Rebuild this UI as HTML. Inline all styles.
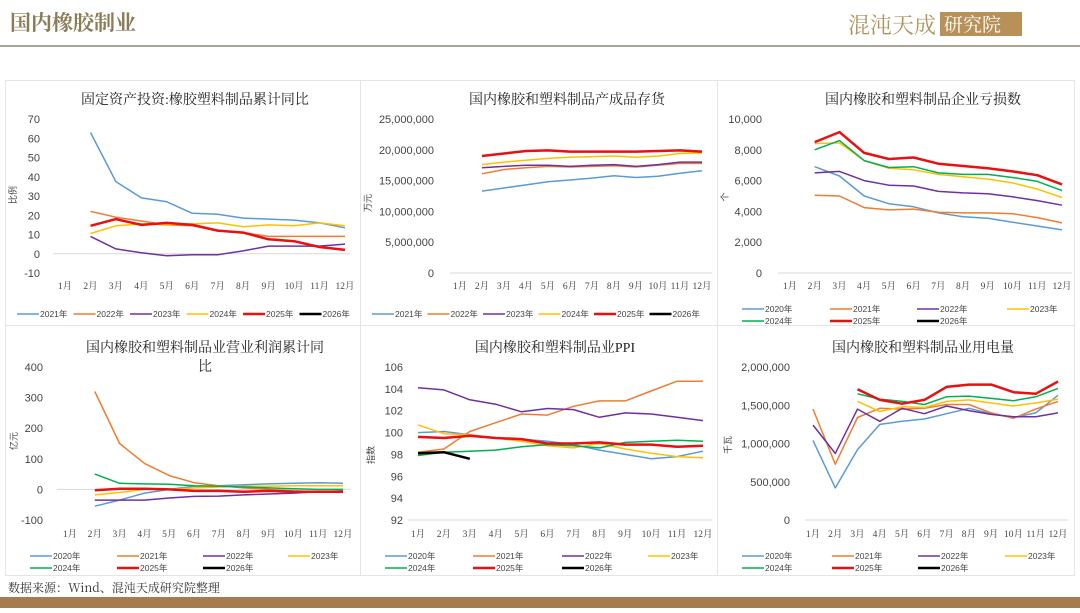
<!DOCTYPE html>
<html><head><meta charset="utf-8">
<style>
body{margin:0;background:#fff;width:1080px;height:608px;overflow:hidden;font-family:"Liberation Sans","Noto Sans CJK SC",sans-serif;}
svg text{font-family:"Liberation Sans","Noto Sans CJK SC",sans-serif;}
.ttl{font-family:"Liberation Serif","Noto Serif CJK SC",serif;font-size:14px;fill:#222;}
.tick{font-size:11px;fill:#444;}
.mon{font-size:9.5px;fill:#444;font-family:"Liberation Serif","Noto Serif CJK SC",serif;}
.leg{font-size:8.5px;fill:#444;}
</style></head>
<body>
<svg id="s" width="1080" height="608" xmlns="http://www.w3.org/2000/svg">
<rect x="0" y="0" width="1080" height="608" fill="#fff"/>
<text x="10" y="30" font-size="21" font-weight="bold" fill="#8b7b58" style="font-family:'Noto Serif CJK SC',serif">国内橡胶制业</text>
<g>
<text x="848" y="33" font-size="22" fill="#b0925e" style="font-family:'Noto Serif CJK SC',serif">混沌天成</text>
<rect x="940" y="12" width="82" height="24" fill="#b89158"/>
<text x="944" y="31" font-size="19" fill="#fff" style="font-family:'Noto Serif CJK SC',serif">研究院</text>
</g>
<rect x="0" y="45" width="1080" height="2" fill="#a8a595"/>
<g fill="none" stroke="#e4e4e4" stroke-width="1">
<rect x="5.5" y="80.5" width="355" height="245"/>
<rect x="360.5" y="80.5" width="357" height="245"/>
<rect x="717.5" y="80.5" width="357" height="245"/>
<rect x="5.5" y="325.5" width="355" height="250"/>
<rect x="360.5" y="325.5" width="357" height="250"/>
<rect x="717.5" y="325.5" width="357" height="250"/>
</g>
<text x="8" y="592" font-size="12" fill="#333" style="font-family:'Noto Serif CJK SC',serif">数据来源：Wind、混沌天成研究院整理</text>
<rect x="0" y="597" width="1080" height="11" fill="#a67c4c"/>
</svg>
<script>
const months=['1月','2月','3月','4月','5月','6月','7月','8月','9月','10月','11月','12月'];
const COLORS=['#5b9bd5','#ed7d31','#7030a0','#ffc000','#00b050','#e81010','#000'];
// Chart 1: fixed asset investment YoY (months 2-12)
const c1Years=['2021年','2022年','2023年','2024年','2025年','2026年'];
const c1Ticks=[70,60,50,40,30,20,10,0,-10];
const c1_2021=[null,63,37.5,29,27,21,20.5,18.5,18,17.5,16,13.5];
const c1_2022=[null,22,19,17,15,14.5,12,11,9,9,9,9];
const c1_2023=[null,9,2.5,0.5,-1,-0.5,-0.5,1.5,4,4,4,5];
const c1_2024=[null,10.5,14.5,15.5,15,15.5,16,14,15,14.5,16,14.5];
const c1_2025=[null,14.5,18,15,16,15,12,11,7.5,6.5,3.5,2];
const c1_2026=[];
// Chart 2: finished goods inventory (10k yuan)
const c2Years=['2021年','2022年','2023年','2024年','2025年','2026年'];
const c2Ticks=[25000000,20000000,15000000,10000000,5000000,0];
const c2_2021=[null,13.3e6,13.8e6,14.3e6,14.8e6,15.1e6,15.4e6,15.8e6,15.5e6,15.7e6,16.2e6,16.6e6];
const c2_2022=[null,16.1e6,16.8e6,17.1e6,17.3e6,17.2e6,17.3e6,17.4e6,17.2e6,17.5e6,17.8e6,17.8e6];
const c2_2023=[null,17.1e6,17.3e6,17.5e6,17.5e6,17.3e6,17.5e6,17.6e6,17.3e6,17.6e6,18.0e6,18.0e6];
const c2_2024=[null,17.6e6,18.0e6,18.3e6,18.6e6,18.8e6,18.9e6,19.0e6,18.8e6,19.0e6,19.4e6,19.5e6];
const c2_2025=[null,19.0e6,19.4e6,19.8e6,19.9e6,19.7e6,19.7e6,19.7e6,19.7e6,19.8e6,19.9e6,19.7e6];
const c2_2026=[];
// Chart 3: loss-making firms
const c3Years=['2020年','2021年','2022年','2023年','2024年','2025年','2026年'];
const c3Ticks=[10000,8000,6000,4000,2000,0];
const c3_2020=[null,6900,6300,5000,4500,4300,3900,3650,3550,3300,3050,2800];
const c3_2021=[null,5050,5000,4250,4100,4150,3950,3900,3900,3850,3600,3250];
const c3_2022=[null,6500,6600,6000,5700,5650,5300,5200,5150,4950,4700,4400];
const c3_2023=[null,8400,8450,7300,6800,6700,6400,6250,6100,5850,5450,4900];
const c3_2024=[null,8000,8600,7300,6850,6900,6500,6400,6400,6200,5950,5350];
const c3_2025=[null,8500,9150,7800,7400,7500,7100,6950,6800,6600,6350,5750];
const c3_2026=[];
// Chart 4: operating profit YoY
const c4Years=['2020年','2021年','2022年','2023年','2024年','2025年','2026年'];
const c4Ticks=[400,300,200,100,0,-100];
const c4_2020=[null,-55,-35,-12,0,10,12,15,18,20,22,20];
const c4_2021=[null,320,150,85,45,22,12,5,0,-5,-8,-8];
const c4_2022=[null,-35,-35,-35,-28,-23,-22,-18,-15,-12,-8,-5];
const c4_2023=[null,-18,-10,0,0,5,8,10,10,12,12,12];
const c4_2024=[null,50,20,18,17,12,10,8,5,2,0,0];
const c4_2025=[null,-3,2,2,0,-5,-5,-8,-5,-8,-8,-8];
const c4_2026=[];
// Chart 5: PPI
const c5Years=['2020年','2021年','2022年','2023年','2024年','2025年','2026年'];
const c5Ticks=[106,104,102,100,98,96,94,92];
const c5_2020=[100,100.1,99.8,99.5,99.4,99.2,98.9,98.4,98.0,97.6,97.8,98.3];
const c5_2021=[98.2,98.5,100.1,100.9,101.7,101.6,102.4,102.9,102.9,103.8,104.7,104.7];
const c5_2022=[104.1,103.9,103,102.6,101.9,102.2,102.1,101.4,101.8,101.7,101.4,101.1];
const c5_2023=[100.7,99.9,99.8,99.5,99.2,98.8,98.6,99.0,98.5,98.1,97.8,97.7];
const c5_2024=[97.9,98.2,98.3,98.4,98.7,98.9,98.8,98.6,99.1,99.2,99.3,99.2];
const c5_2025=[99.6,99.5,99.7,99.5,99.4,99.0,99.0,99.1,98.9,98.9,98.7,98.8];
const c5_2026=[98.1,98.2,97.6];
// Chart 6: electricity use (kW·h thousand)
const c6Years=['2020年','2021年','2022年','2023年','2024年','2025年','2026年'];
const c6Ticks=[2000000,1500000,1000000,500000,0];
const c6_2020=[1040e3,420e3,920e3,1250e3,1290e3,1320e3,1390e3,1460e3,1390e3,1340e3,1400e3,1630e3];
const c6_2021=[1450e3,730e3,1340e3,1460e3,1450e3,1460e3,1510e3,1510e3,1400e3,1330e3,1450e3,1550e3];
const c6_2022=[1240e3,870e3,1450e3,1290e3,1460e3,1390e3,1490e3,1430e3,1380e3,1350e3,1350e3,1400e3];
const c6_2023=[null,null,1550e3,1420e3,1480e3,1470e3,1550e3,1570e3,1530e3,1490e3,1530e3,1580e3];
const c6_2024=[null,null,1650e3,1580e3,1550e3,1510e3,1610e3,1620e3,1590e3,1560e3,1610e3,1720e3];
const c6_2025=[null,null,1710e3,1570e3,1520e3,1570e3,1740e3,1770e3,1770e3,1670e3,1650e3,1810e3];
const c6_2026=[];

const NS='http://www.w3.org/2000/svg';
const svg=document.getElementById('s');
function mk(tag,attrs,parent){const e=document.createElementNS(NS,tag);for(const k in attrs)e.setAttribute(k,attrs[k]);(parent||svg).appendChild(e);return e;}
function fmt(v,comma){return comma?v.toLocaleString('en-US'):String(v);}

function chart(cfg){
  const g=mk('g',{});
  
  
  cfg.title.forEach((t,i)=>{
    const tt=mk('text',{x:cfg.tx,y:cfg.ty+i*19,'text-anchor':'middle',class:'ttl'},g);
    tt.textContent=t;
    
    
  });
  const ymin=Math.min(...cfg.ticks),ymax=Math.max(...cfg.ticks);
  const yS=v=>cfg.y0+(ymax-v)/(ymax-ymin)*(cfg.y1-cfg.y0);
  const xS=i=>cfg.m1+i*(cfg.m12-cfg.m1)/11;
  cfg.ticks.forEach(t=>{
    const tx=mk('text',{x:cfg.tickX,y:yS(t)+4,'text-anchor':'end',class:'tick'},g);
    tx.textContent=fmt(t,cfg.comma);
    
    
  });
  const base=cfg.base!==undefined?cfg.base:ymin;
  const ax=mk('line',{x1:cfg.ax0,x2:cfg.ax1,y1:yS(base),y2:yS(base),stroke:'#d9d9d9','stroke-width':1},g);
  
  
  months.forEach((m,i)=>{
    const t=mk('text',{x:xS(i),y:cfg.my,'text-anchor':'middle',class:'mon'},g);
    t.textContent=m;
    
    
  });
  const yt=mk('text',{x:0,y:0,'font-size':9,fill:'#444',transform:`translate(${cfg.ytx},${cfg.yty}) rotate(-90)`,'text-anchor':'middle'},g);
  yt.textContent=cfg.ytitle;
  
  
  cfg.series.forEach((s,si)=>{
    const col=cfg.colors[si];
    const w=(cfg.years[si]==='2025年'||cfg.years[si]==='2026年')?2.5:1.5;
    let d='';let pen=false;
    s.forEach((v,i)=>{if(v===null||v===undefined){pen=false;return;}d+=(pen?'L':'M')+xS(i).toFixed(1)+' '+yS(v).toFixed(1);pen=true;});
    if(d){const p=mk('path',{d:d,fill:'none',stroke:col,'stroke-width':w,'stroke-linejoin':'round'},g);
      
      }
    const lx=cfg.legX[si],ly=cfg.legY[si];
    const lg=mk('g',{},g);
    
    
    mk('line',{x1:lx,x2:lx+22,y1:ly,y2:ly,stroke:col,'stroke-width':w},lg);
    const lt=mk('text',{x:lx+23,y:ly+3,class:'leg'},lg);
    lt.textContent=cfg.years[si];
  });
}
const row6=(x0,step,y)=>({x:[0,1,2,3,4,5].map(i=>x0+i*step),y:[y,y,y,y,y,y]});
const two=(xs,y1,y2)=>({x:[xs[0],xs[1],xs[2],xs[3],xs[0],xs[1],xs[2]],y:[y1,y1,y1,y1,y2,y2,y2]});
const pal6=[COLORS[0],COLORS[1],COLORS[2],COLORS[3],COLORS[5],COLORS[6]];
let L;
L=row6(17,56.5,314);
chart({name:'chart-fai-yoy',title:['固定资产投资:橡胶塑料制品累计同比'],tx:195,ty:104,ticks:c1Ticks,y0:119,y1:273,base:0,tickX:40,ax0:53,ax1:350,m1:65,m12:345,my:289,ytitle:'比例',ytx:16,yty:195,comma:false,
  series:[c1_2021,c1_2022,c1_2023,c1_2024,c1_2025,c1_2026],years:c1Years,colors:pal6,legX:L.x,legY:L.y});
L=row6(372,55.5,314);
chart({name:'chart-inventory',title:['国内橡胶和塑料制品产成品存货'],tx:567,ty:104,ticks:c2Ticks,y0:119,y1:273,tickX:434,ax0:450,ax1:712,m1:460,m12:702,my:289,ytitle:'万元',ytx:371,yty:203,comma:true,
  series:[c2_2021,c2_2022,c2_2023,c2_2024,c2_2025,c2_2026],years:c2Years,colors:pal6,legX:L.x,legY:L.y});
L=two([742,830,917,1007],309,321);
chart({name:'chart-loss-firms',title:['国内橡胶和塑料制品企业亏损数'],tx:923,ty:104,ticks:c3Ticks,y0:119,y1:273,tickX:762,ax0:778,ax1:1072,m1:790,m12:1062,my:289,ytitle:'个',ytx:728,yty:197,comma:true,
  series:[c3_2020,c3_2021,c3_2022,c3_2023,c3_2024,c3_2025,c3_2026],years:c3Years,colors:COLORS,legX:L.x,legY:L.y});
L=two([30,117,203,288],556,568);
chart({name:'chart-profit-yoy',title:['国内橡胶和塑料制品业营业利润累计同','比'],tx:205,ty:352,ticks:c4Ticks,y0:367,y1:520,base:0,tickX:43,ax0:57,ax1:350,m1:70,m12:343,my:537,ytitle:'亿元',ytx:17,yty:441,comma:false,
  series:[c4_2020,c4_2021,c4_2022,c4_2023,c4_2024,c4_2025,c4_2026],years:c4Years,colors:COLORS,legX:L.x,legY:L.y});
L=two([385,473,562,648],556,568);
chart({name:'chart-ppi',title:['国内橡胶和塑料制品业PPI'],tx:555,ty:352,ticks:c5Ticks,y0:367,y1:520,tickX:403,ax0:408,ax1:712,m1:418,m12:703,my:537,ytitle:'指数',ytx:374,yty:455,comma:false,
  series:[c5_2020,c5_2021,c5_2022,c5_2023,c5_2024,c5_2025,c5_2026],years:c5Years,colors:COLORS,legX:L.x,legY:L.y});
L=two([742,832,918,1005],556,568);
chart({name:'chart-electricity',title:['国内橡胶和塑料制品业用电量'],tx:923,ty:352,ticks:c6Ticks,y0:367,y1:520,tickX:790,ax0:805,ax1:1068,m1:813,m12:1058,my:537,ytitle:'千瓦',ytx:731,yty:445,comma:true,
  series:[c6_2020,c6_2021,c6_2022,c6_2023,c6_2024,c6_2025,c6_2026],years:c6Years,colors:COLORS,legX:L.x,legY:L.y});
</script>
</body></html>
